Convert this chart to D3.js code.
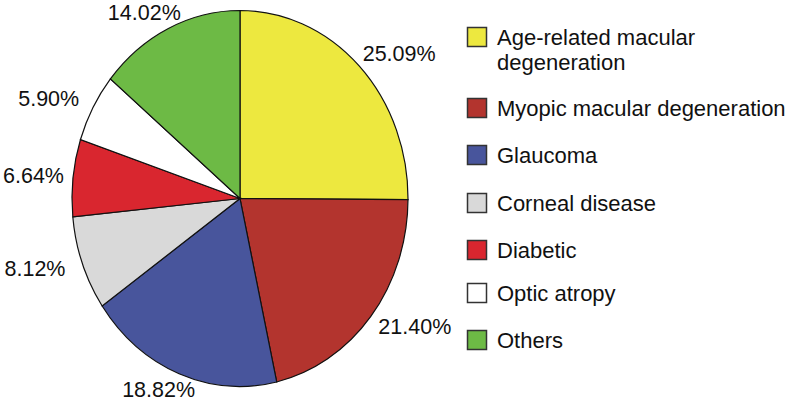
<!DOCTYPE html>
<html><head><meta charset="utf-8">
<script src="https://cdn.jsdelivr.net/npm/d3@7"></script>
<style>body{margin:0;background:#fff}svg{display:block}text{font-family:"Liberation Sans",Arial,sans-serif;fill:#111}</style>
</head><body><svg width="796" height="407"></svg>
<script>
const categories = ["Age-related macular degeneration","Myopic macular degeneration","Glaucoma","Corneal disease","Diabetic","Optic atropy","Others"];
const legendLines = [["Age-related macular","degeneration"],["Myopic macular degeneration"],["Glaucoma"],["Corneal disease"],["Diabetic"],["Optic atropy"],["Others"]];
const values = [25.09, 21.40, 18.82, 8.12, 6.64, 5.90, 14.02];
const labels = ["25.09%","21.40%","18.82%","8.12%","6.64%","5.90%","14.02%"];
const colors = ["#ede83f","#b3342e","#48559c","#d9d9d9","#d9262f","#ffffff","#6dba45"];

const svg = d3.select("svg");
const cx = 240, cy = 198.5, rx = 168, ry = 188;
const sy = ry / rx;
const pie = d3.pie().sort(null).value(d => d)(values);
const arc = d3.arc().innerRadius(0).outerRadius(rx);
const g = svg.append("g").attr("transform", `translate(${cx},${cy}) scale(1,${sy})`);
g.selectAll("path").data(pie).join("path")
  .attr("d", arc).attr("fill", (d,i) => colors[i])
  .attr("stroke", "#111").attr("stroke-width", 1.2)
  .attr("vector-effect", "non-scaling-stroke");

const lrx = 188, lry = 205;
const mid = d => (d.startAngle + d.endAngle) / 2;
svg.append("g").selectAll("text").data(pie).join("text")
  .attr("text-anchor", "middle").attr("dominant-baseline", "central")
  .attr("font-size", 21.5).text((d,i) => labels[i])
  .each(function(d) {
    const w = this.getComputedTextLength();
    let x = cx + Math.sin(mid(d)) * (lrx + w / 2);
    x = Math.max(x, w / 2 + 3);
    const y = cy - Math.cos(mid(d)) * lry;
    d3.select(this).attr("x", x).attr("y", y);
  });

const legendY = [37, 108, 155, 203, 250, 293, 340];
const lg = svg.append("g");
categories.forEach((c, i) => {
  const y = legendY[i];
  lg.append("rect").attr("x", 467.5).attr("y", y - 9.5).attr("width", 19).attr("height", 19)
    .attr("fill", colors[i]).attr("stroke", "#333").attr("stroke-width", 1.5);
  legendLines[i].forEach((t, j) => {
    lg.append("text").attr("x", 497).attr("y", y + j * 25).attr("dominant-baseline", "central")
      .attr("font-size", 22).text(t);
  });
});
</script></body></html>
